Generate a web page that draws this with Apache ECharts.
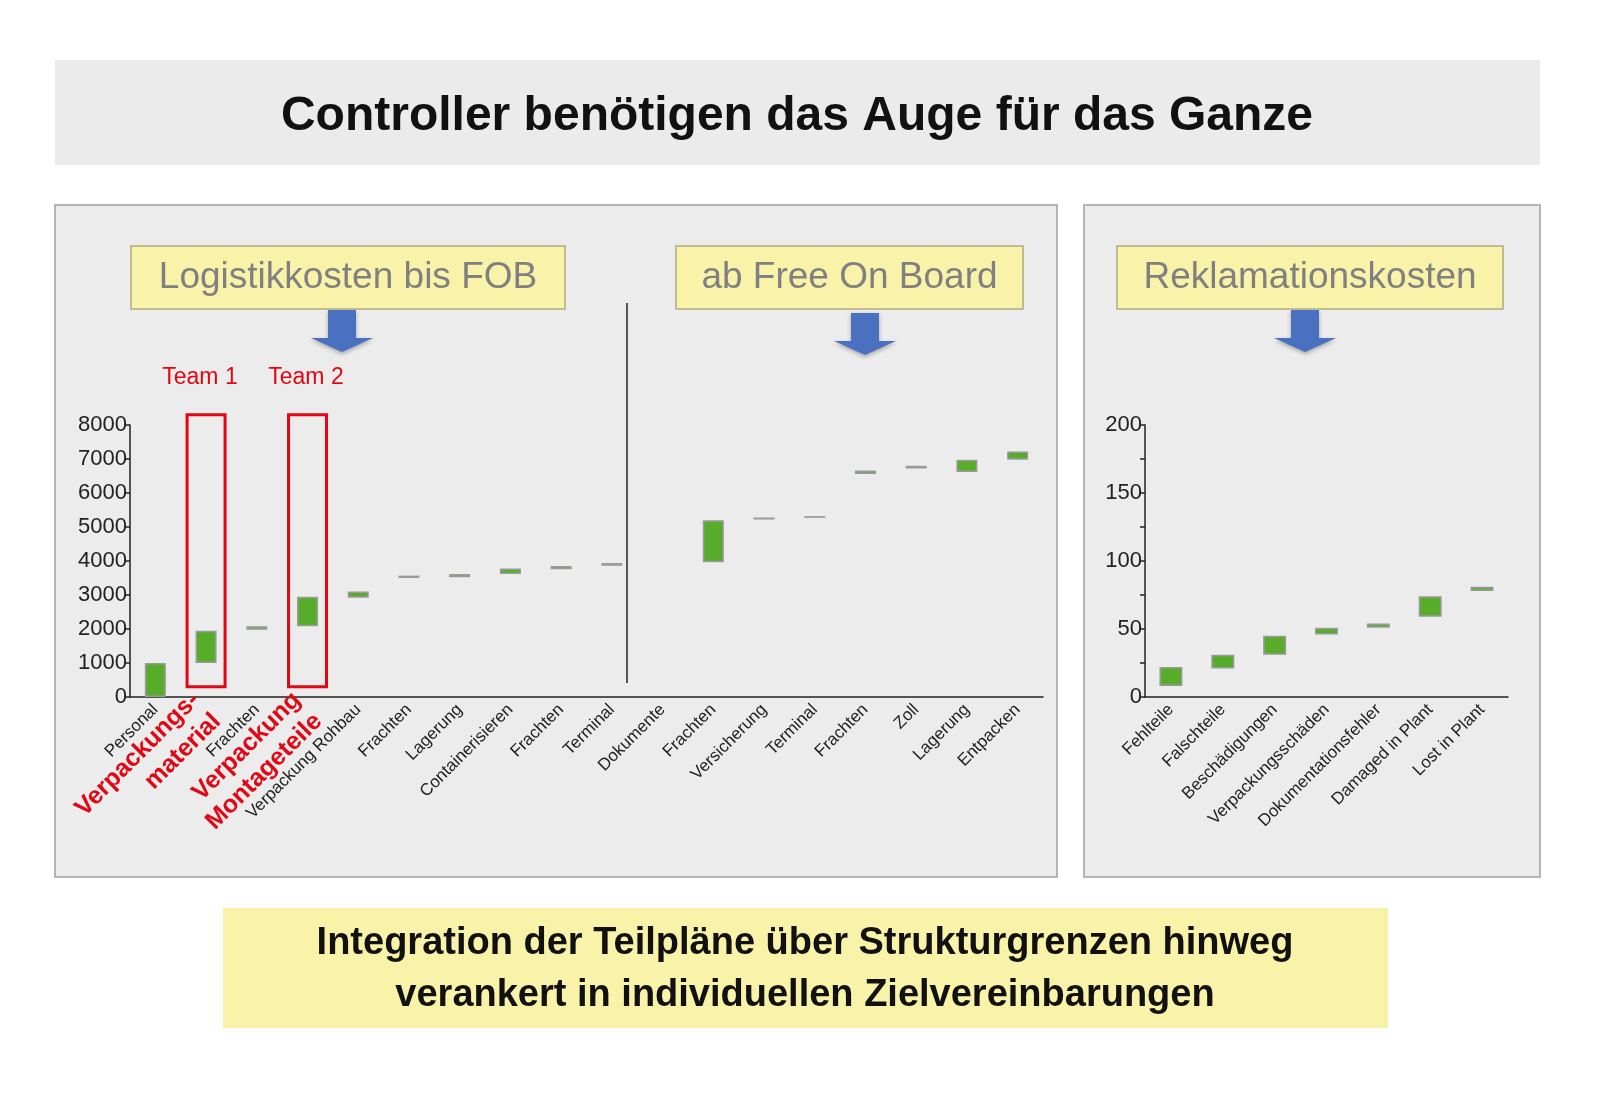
<!DOCTYPE html>
<html>
<head>
<meta charset="utf-8">
<script src="https://cdn.jsdelivr.net/npm/echarts@6/dist/echarts.min.js"></script>
<style>html,body{margin:0;padding:0;background:#fff}#main{width:1600px;height:1110px}</style>
</head>
<body>
<div id="main"></div>
<script>
// Logistikkosten (Wasserfall: Basis + Anteil)
var logCats = ["Personal", "Verpackungs-\nmaterial", "Frachten", "Verpackung\nMontageteile", "Verpackung Rohbau", "Frachten", "Lagerung", "Containerisieren", "Frachten", "Terminal",
    "Dokumente", "Frachten", "Versicherung", "Terminal", "Frachten", "Zoll", "Lagerung", "Entpacken"];
var logBase = [0, 1000, 1980, 2080, 2920, 3500, 3520, 3620, 3760, 3860, null, 3960, 5220, 5270, 6560, 6720, 6620, 6980];
var logValue = [1000, 950, 100, 870, 180, 70, 100, 160, 90, 80, null, 1240, 60, 50, 100, 80, 360, 240];
var logTicks = [0, 1000, 2000, 3000, 4000, 5000, 6000, 7000, 8000];
var redCats = [1, 3];

// Reklamationskosten
var rekCats = ["Fehlteile", "Falschteile", "Beschädigungen", "Verpackungsschäden", "Dokumentationsfehler", "Damaged in Plant", "Lost in Plant"];
var rekBase = [8, 21, 31, 46, 51, 59, 78];
var rekValue = [14, 10, 14, 5, 3, 15, 3];
var rekTicks = [0, 50, 100, 150, 200];

var green = "#57ad2a";
var font = "Liberation Sans, Arial, sans-serif";
var chart = echarts.init(document.getElementById('main'));

function arrow(cx, y) {
    return {
        type: "polygon",
        shape: { points: [[cx - 14, y], [cx + 14, y], [cx + 14, y + 28], [cx + 31, y + 28], [cx, y + 42], [cx - 31, y + 28], [cx - 14, y + 28]] },
        style: { fill: "#4a70c0", shadowBlur: 4, shadowColor: "rgba(0,0,0,0.3)", shadowOffsetY: 2 }
    };
}
function yellowBox(x, y, w, h, text, size) {
    return [
        { type: "rect", shape: { x: x, y: y, width: w, height: h }, style: { fill: "#f9f3a9", stroke: "#b0ab80", lineWidth: 1.5 } },
        { type: "text", x: x + w / 2, y: y + h / 2, style: { text: text, fill: "#808080", font: size + "px " + font, align: "center", verticalAlign: "middle" } }
    ];
}

var axisX = {
    type: "category",
    axisLine: { lineStyle: { color: "#222", width: 1.5 } },
    axisTick: { alignWithLabel: false, lineStyle: { color: "#222", width: 1.5 }, length: 5 },
    axisLabel: { rotate: 45, color: "#222", fontSize: 17, fontFamily: font, interval: 0, margin: 10 }
};
function axisY(max, interval, minor, ticks) {
    return {
        type: "value", min: 0, max: max, interval: interval, splitLine: { show: false },
        axisLine: { show: true, lineStyle: { color: "#222", width: 1.5 } },
        axisTick: { show: true, lineStyle: { color: "#222", width: 1.5 }, length: 5 },
        minorTick: { show: minor, splitNumber: 2, length: 5, lineStyle: { color: "#222", width: 1.5 } },
        axisLabel: { color: "#222", fontSize: 22, fontFamily: font, margin: 3,
            formatter: function (v) { return ticks.indexOf(v) >= 0 ? String(v) : ""; } }
    };
}

var option = {
    animation: false,
    grid: [
        { left: 130, top: 425, width: 913, height: 272 },
        { left: 1145, top: 425, width: 363, height: 272 }
    ],
    xAxis: [
        Object.assign({}, axisX, {
            gridIndex: 0, data: logCats,
            axisLabel: Object.assign({}, axisX.axisLabel, {
                formatter: function (v, i) { return redCats.indexOf(i) >= 0 ? "{r|" + v.split("\n").join("}\n{r|") + "}" : v; },
                rich: { r: { color: "#e30613", fontSize: 25, fontWeight: "bold", fontFamily: font, lineHeight: 30 } }
            })
        }),
        Object.assign({}, axisX, { gridIndex: 1, data: rekCats })
    ],
    yAxis: [
        Object.assign(axisY(8000, 1000, false, logTicks), { gridIndex: 0 }),
        Object.assign(axisY(200, 50, true, rekTicks), { gridIndex: 1 })
    ],
    series: [
        { type: "bar", stack: "a", xAxisIndex: 0, yAxisIndex: 0, data: logBase, itemStyle: { color: "transparent" }, barWidth: 21, silent: true },
        { type: "bar", stack: "a", xAxisIndex: 0, yAxisIndex: 0, data: logValue, itemStyle: { color: green, borderColor: "#9a9a9a", borderWidth: 1.5 } },
        { type: "bar", stack: "b", xAxisIndex: 1, yAxisIndex: 1, data: rekBase, itemStyle: { color: "transparent" }, barWidth: 23, silent: true },
        { type: "bar", stack: "b", xAxisIndex: 1, yAxisIndex: 1, data: rekValue, itemStyle: { color: green, borderColor: "#9a9a9a", borderWidth: 1.5 } }
    ]
};
chart.setOption(option);

// Rahmen und Beschriftungen
var g = [
    { type: "rect", z: -10, shape: { x: 55, y: 60, width: 1485, height: 105 }, style: { fill: "#ebebeb" } },
    { type: "text", z: 10, x: 797, y: 117, style: { text: "Controller benötigen das Auge für das Ganze", fill: "#111", font: "bold 48px " + font, align: "center", verticalAlign: "middle" } },
    { type: "rect", z: -10, shape: { x: 55, y: 205, width: 1002, height: 672 }, style: { fill: "#ececec", stroke: "#a0a0a0", lineWidth: 1.5 } },
    { type: "rect", z: -10, shape: { x: 1084, y: 205, width: 456, height: 672 }, style: { fill: "#ececec", stroke: "#a0a0a0", lineWidth: 1.5 } },
    { type: "rect", z: -10, shape: { x: 223, y: 908, width: 1165, height: 120 }, style: { fill: "#f9f3a9" } },
    { type: "text", z: 10, x: 805, y: 970, style: { text: "Integration der Teilpläne über Strukturgrenzen hinweg\nverankert in individuellen Zielvereinbarungen", fill: "#111", font: "bold 38px " + font, align: "center", verticalAlign: "middle", lineHeight: 52 } },
    { type: "line", shape: { x1: 627, y1: 303, x2: 627, y2: 683 }, style: { stroke: "#222", lineWidth: 1.5 } },
    { type: "text", x: 200, y: 378, style: { text: "Team 1", fill: "#e30613", font: "23px " + font, align: "center", verticalAlign: "middle" } },
    { type: "text", x: 306, y: 378, style: { text: "Team 2", fill: "#e30613", font: "23px " + font, align: "center", verticalAlign: "middle" } },
    arrow(342, 310), arrow(865, 313), arrow(1305, 310)
].concat(yellowBox(131, 246, 434, 63, "Logistikkosten bis FOB", 37))
 .concat(yellowBox(676, 246, 347, 63, "ab Free On Board", 37))
 .concat(yellowBox(1117, 246, 386, 63, "Reklamationskosten", 37));

redCats.forEach(function (i) {
    var p = chart.convertToPixel({ xAxisIndex: 0, yAxisIndex: 0 }, [i, 300]);
    var top = chart.convertToPixel({ xAxisIndex: 0, yAxisIndex: 0 }, [i, 8300]);
    g.push({ type: "rect", shape: { x: p[0] - 19, y: top[1], width: 38, height: p[1] - top[1] }, style: { fill: "none", stroke: "#e30613", lineWidth: 3 } });
});
chart.setOption({ graphic: g });
</script>
</body>
</html>
